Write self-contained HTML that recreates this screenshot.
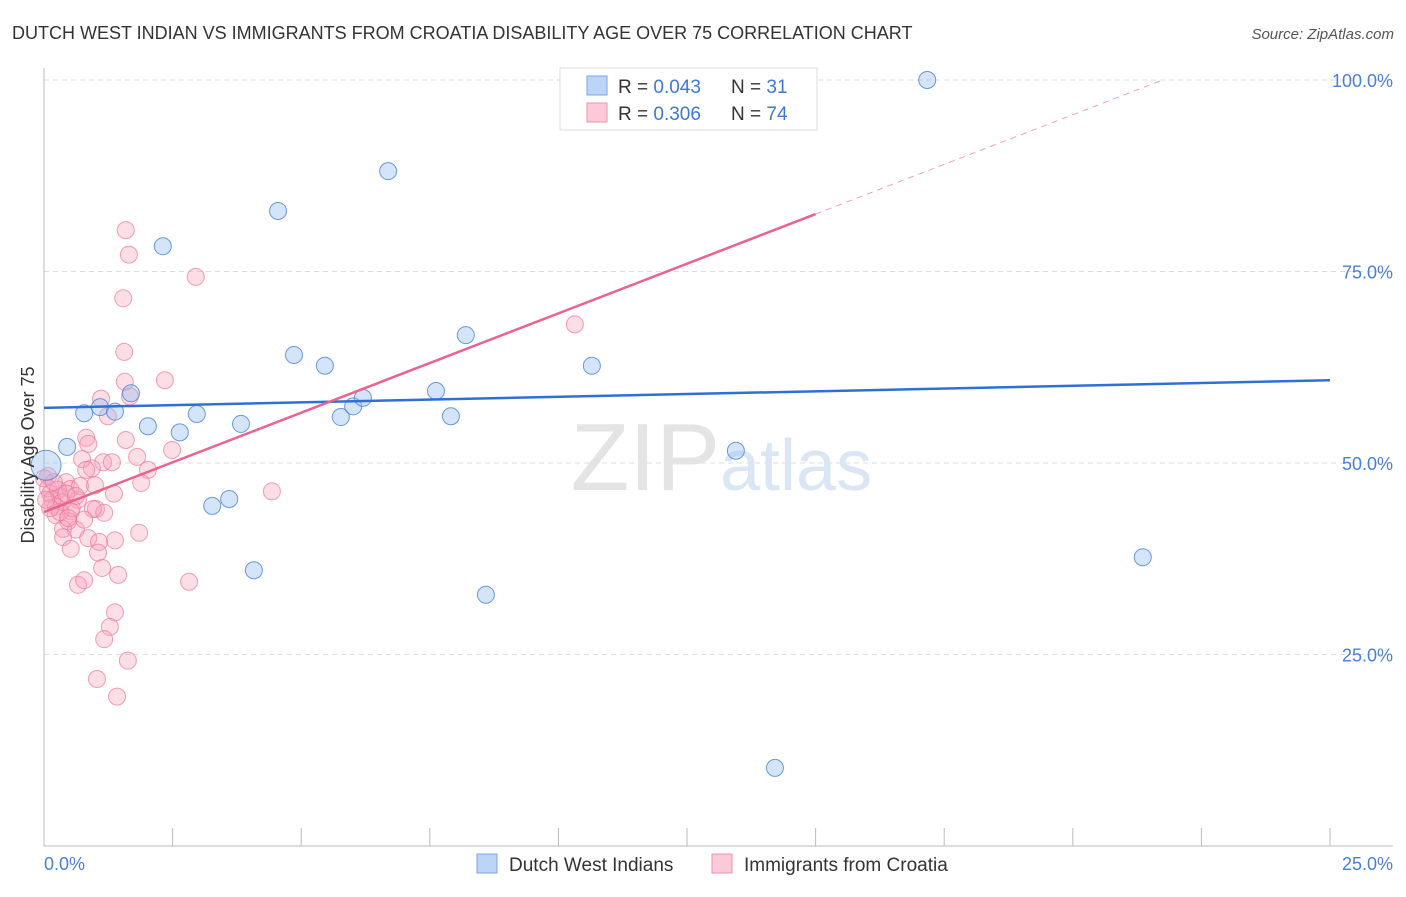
<!DOCTYPE html>
<html><head><meta charset="utf-8"><style>
body{margin:0;background:#fff;font-family:"Liberation Sans",sans-serif;}
svg text{font-family:"Liberation Sans",sans-serif;}
</style></head><body>
<svg width="1406" height="892" viewBox="0 0 1406 892">
<text x="12" y="39" font-size="18" fill="#333">DUTCH WEST INDIAN VS IMMIGRANTS FROM CROATIA DISABILITY AGE OVER 75 CORRELATION CHART</text>
<text x="1394" y="39" font-size="15" fill="#555" font-style="italic" text-anchor="end">Source: ZipAtlas.com</text>
<g id="grid"></g>
<text x="720" y="490" font-size="96" fill="#e4e4e4" text-anchor="end" font-family="Liberation Serif">ZIP</text>
<text x="720" y="490" font-size="72" fill="#dbe6f5">atlas</text>
<g id="pts"></g>
<g id="lines"></g>
<text transform="translate(34,455) rotate(-90)" font-size="18" fill="#333" text-anchor="middle">Disability Age Over 75</text>
<text x="44" y="870" font-size="18" fill="#4a7fd4">0.0%</text>
<text x="1393" y="870" font-size="18" fill="#4a7fd4" text-anchor="end">25.0%</text>
<g>
<rect x="560" y="68" width="257" height="62" fill="#fff" stroke="#ddd"/>
<rect x="587" y="76" width="20" height="19" fill="#bcd4f5" stroke="#7aa5e8"/>
<rect x="587" y="103" width="20" height="19" fill="#fbc9d7" stroke="#f090ac"/>
<text x="618" y="93" font-size="19" fill="#333">R = <tspan fill="#3b78d8">0.043</tspan></text>
<text x="731" y="93" font-size="19" fill="#333">N = <tspan fill="#3b78d8"> 31</tspan></text>
<text x="618" y="120" font-size="19" fill="#333">R = <tspan fill="#3b78d8">0.306</tspan></text>
<text x="731" y="120" font-size="19" fill="#333">N = <tspan fill="#3b78d8">74</tspan></text>
</g>
<g>
<rect x="477" y="854" width="20" height="19" fill="#bcd4f5" stroke="#7aa5e8"/>
<text x="509" y="871" font-size="19" fill="#333">Dutch West Indians</text>
<rect x="712" y="854" width="20" height="19" fill="#fbc9d7" stroke="#f090ac"/>
<text x="744" y="871" font-size="19" fill="#333">Immigrants from Croatia</text>
</g>
</svg>
<script>
const yTicks=[25,50,75,100];
const yTickLabels=["25.0%","50.0%","75.0%","100.0%"];
const xTicks=[0,2.5,5,7.5,10,12.5,15,17.5,20,22.5,25];
const blueX=[0.04,0.45,0.78,1.09,1.38,1.69,2.02,2.31,2.64,2.97,3.27,3.60,3.83,4.08,4.55,4.86,5.46,5.77,6.01,6.20,6.69,7.62,7.91,8.20,8.59,10.65,12.79,13.45,14.21,17.17,21.36];
const blueY=[49.7,52.1,56.5,57.3,56.7,59.1,54.8,78.3,54.0,56.4,44.4,45.3,55.1,36.0,82.9,64.1,62.7,56.0,57.4,58.5,88.1,59.4,56.1,66.7,32.8,62.7,99.7,51.6,10.2,100,37.7];
const pinkPx=[[126,230],[129,255],[196,277],[123,298],[124,352],[575,324],[125,382],[165,380],[101,399],[130,396],[108,416],[126,440],[86,438],[88,444],[172,450],[103,462],[137,457],[92,468],[148,470],[82,459],[272,491],[141,483],[114,494],[66,482],[48,476],[50,494],[60,496],[56,507],[70,489],[78,500],[96,509],[104,513],[71,511],[93,509],[68,521],[56,515],[63,529],[76,530],[88,538],[115,540],[99,542],[139,533],[63,537],[71,549],[98,553],[102,568],[118,575],[78,585],[84,580],[189,582],[115,612],[110,627],[104,639],[128,661],[97,679],[117,697],[44,478],[48,488],[52,500],[58,490],[62,502],[66,494],[72,508],[80,486],[84,520],[60,512],[50,508],[46,500],[54,482],[95,485],[112,462],[68,518],[76,496],[86,470]];
const pinkX=pinkPx.map(p=>+((p[0]-44)/51.44).toFixed(2));
const pinkY=pinkPx.map(p=>+((846-p[1])/7.66).toFixed(1));
const blueTrend=[57.2,60.8];
const pinkTrend=[43.6,82.5];
const X0=44,X1=1330,Y0=846,YT=80;
const sx=v=>X0+(v/25)*(X1-X0);
const sy=v=>Y0-(v/100)*(Y0-YT);
const NS="http://www.w3.org/2000/svg";
function mk(t,a,p){const e=document.createElementNS(NS,t);for(const k in a)e.setAttribute(k,a[k]);p.appendChild(e);return e;}
const g=document.getElementById('grid');
yTicks.forEach((t,i)=>{
 const l=mk('line',{x1:X0,x2:1393,y1:sy(t),y2:sy(t),stroke:'#ddd','stroke-dasharray':'5,4'},g);
 
 
 const tx=mk('text',{x:1393,y:sy(t)+7,'font-size':18,fill:'#4a7fd4','text-anchor':'end'},g);
 tx.textContent=yTickLabels[i];
 
 
});
const ax=mk('line',{x1:X0,x2:X0,y1:68,y2:Y0,stroke:'#bbb'},g);


const bx=mk('line',{x1:X0,x2:1393,y1:Y0,y2:Y0,stroke:'#bbb'},g);


xTicks.forEach(t=>{
 const l=mk('line',{x1:sx(t),x2:sx(t),y1:Y0,y2:Y0-18,stroke:'#bbb'},g);
 
 
});
const P=document.getElementById('pts');
pinkX.forEach((x,i)=>{
 const c=mk('circle',{cx:sx(x),cy:sy(pinkY[i]),r:8.5,fill:'rgba(246,160,185,0.35)',stroke:'rgba(236,120,155,0.7)','stroke-width':1},P);
 
 
});
blueX.forEach((x,i)=>{
 const c=mk('circle',{cx:sx(x),cy:sy(blueY[i]),r:i===0?15:8.5,fill:'rgba(150,190,240,0.4)',stroke:'rgba(70,130,215,0.8)','stroke-width':1},P);
 
 
});
const L=document.getElementById('lines');
const b=mk('line',{x1:sx(0),y1:sy(blueTrend[0]),x2:sx(25),y2:sy(blueTrend[1]),stroke:'#2f6fd6','stroke-width':2.5},L);


const slope=(pinkTrend[1]-pinkTrend[0])/15;
const p=mk('line',{x1:sx(0),y1:sy(pinkTrend[0]),x2:sx(15),y2:sy(pinkTrend[1]),stroke:'#e8638f','stroke-width':2.5},L);


const xe=(100-pinkTrend[0])/slope;
const pd=mk('line',{x1:sx(15),y1:sy(pinkTrend[1]),x2:sx(xe),y2:sy(100),stroke:'#f0a0b8','stroke-width':1,'stroke-dasharray':'6,5'},L);


</script>
</body></html>
